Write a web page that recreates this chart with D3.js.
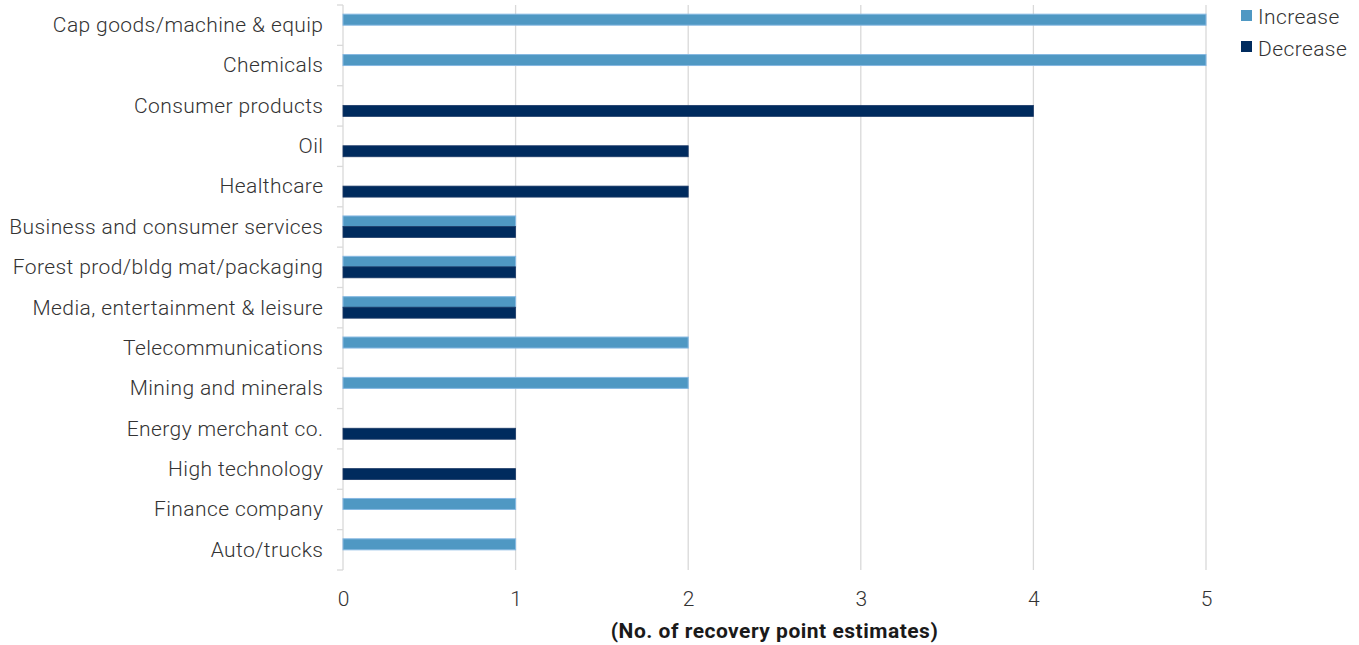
<!DOCTYPE html>
<html>
<head>
<meta charset="utf-8">
<script src="https://cdn.jsdelivr.net/npm/d3@7/dist/d3.min.js"></script>
<style>
  html, body { margin: 0; padding: 0; background: #fff; }
  svg { display: block; }
  text { font-family: Roboto, "Noto Sans", sans-serif; }
</style>
</head>
<body>
<svg id="chart" width="1359" height="645"></svg>
<script>
// Sectors, top to bottom
const categories = [
  "Cap goods/machine & equip",
  "Chemicals",
  "Consumer products",
  "Oil",
  "Healthcare",
  "Business and consumer services",
  "Forest prod/bldg mat/packaging",
  "Media, entertainment & leisure",
  "Telecommunications",
  "Mining and minerals",
  "Energy merchant co.",
  "High technology",
  "Finance company",
  "Auto/trucks"
];
// Number of recovery point estimates raised / lowered per sector
const increaseValues = [5, 5, 0, 0, 0, 1, 1, 1, 2, 2, 0, 0, 1, 1];
const decreaseValues = [0, 0, 4, 2, 2, 1, 1, 1, 0, 0, 1, 1, 0, 0];
const seriesNames = ["Increase", "Decrease"];
const xTicks = [0, 1, 2, 3, 4, 5];
const axisTitle = "(No. of recovery point estimates)";

const colors = { Increase: "#4f98c3", Decrease: "#002b5e" };
const strokes = { Increase: "#86b8e2", Decrease: "#1d3b68" };

const svg = d3.select("#chart");
const plotLeft = 343, plotRight = 1206, plotTop = 5, plotBottom = 570;

const x = d3.scaleLinear().domain([0, 5]).range([plotLeft, plotRight]);
const y = d3.scaleBand().domain(categories).range([plotTop, plotBottom]).padding(0);
const barH = 11;

// Vertical gridlines
svg.append("g")
  .selectAll("line")
  .data(xTicks.slice(1))
  .join("line")
  .attr("x1", d => x(d)).attr("x2", d => x(d))
  .attr("y1", plotTop).attr("y2", plotBottom)
  .attr("stroke", "#d9d9d9").attr("stroke-width", 1.3);

// Category axis with outward ticks at band boundaries
const yAxis = svg.append("g");
yAxis.append("line")
  .attr("x1", plotLeft).attr("x2", plotLeft)
  .attr("y1", plotTop).attr("y2", plotBottom)
  .attr("stroke", "#d9d9d9").attr("stroke-width", 1.3);
const boundaries = categories.map(c => y(c)).concat([plotBottom]);
yAxis.selectAll("line.tick")
  .data(boundaries)
  .join("line")
  .attr("class", "tick")
  .attr("x1", plotLeft - 6).attr("x2", plotLeft)
  .attr("y1", d => d).attr("y2", d => d)
  .attr("stroke", "#d9d9d9").attr("stroke-width", 1.3);

yAxis.selectAll("text")
  .data(categories)
  .join("text")
  .attr("x", 323.4)
  .attr("y", d => y(d) + y.bandwidth() / 2 - 0.5)
  .attr("dy", "0.35em")
  .attr("text-anchor", "end")
  .attr("font-size", 21)
  .attr("font-weight", 300)
  .attr("letter-spacing", 0.4)
  .attr("fill", "#333")
  .text(d => d);

// Bars: increase above the band centre, decrease below it
const rows = categories.map((c, i) => ({ c, inc: increaseValues[i], dec: decreaseValues[i] }));
const bars = svg.append("g");
bars.selectAll("rect.inc")
  .data(rows.filter(r => r.inc > 0))
  .join("rect")
  .attr("class", "inc")
  .attr("x", x(0))
  .attr("y", d => y(d.c) + y.bandwidth() / 2 - barH)
  .attr("width", d => x(d.inc) - x(0))
  .attr("height", barH)
  .attr("fill", colors.Increase)
  .attr("stroke", strokes.Increase).attr("stroke-width", 1);
bars.selectAll("rect.dec")
  .data(rows.filter(r => r.dec > 0))
  .join("rect")
  .attr("class", "dec")
  .attr("x", x(0))
  .attr("y", d => y(d.c) + y.bandwidth() / 2 - 0.5)
  .attr("width", d => x(d.dec) - x(0))
  .attr("height", barH)
  .attr("fill", colors.Decrease)
  .attr("stroke", strokes.Decrease).attr("stroke-width", 0.8);

// Value axis labels
const xAxis = d3.axisBottom(x).tickValues(xTicks).tickSize(0).tickPadding(0).tickFormat(d3.format("d"));
const xg = svg.append("g").attr("transform", `translate(0, 591)`).call(xAxis);
xg.select(".domain").remove();
xg.selectAll("text")
  .attr("font-size", 21)
  .attr("font-weight", 300)
  .attr("fill", "#333")
  .attr("font-family", "Roboto, sans-serif");

svg.append("text")
  .attr("x", (plotLeft + plotRight) / 2)
  .attr("y", 638)
  .attr("text-anchor", "middle")
  .attr("font-size", 21)
  .attr("font-weight", 700)
  .attr("letter-spacing", 0.5)
  .attr("fill", "#1a1a1a")
  .text(axisTitle);

// Legend
const legend = svg.append("g");
seriesNames.forEach((s, i) => {
  const ly = 10 + i * 31;
  legend.append("rect")
    .attr("x", 1241).attr("y", ly)
    .attr("width", 11).attr("height", 11)
    .attr("fill", colors[s]);
  legend.append("text")
    .attr("x", 1258).attr("y", ly + 6.5 + i)
    .attr("dy", "0.35em")
    .attr("font-size", 21)
    .attr("font-weight", 300)
    .attr("letter-spacing", 0.4)
    .attr("fill", "#333")
    .text(s);
});
</script>
</body>
</html>
